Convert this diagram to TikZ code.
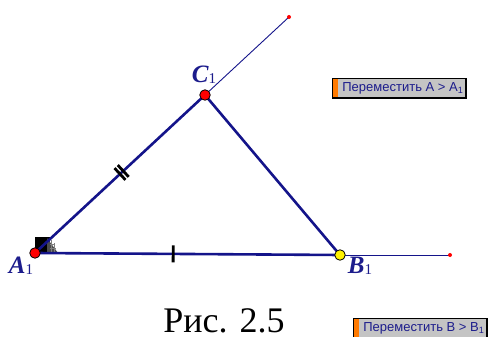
\documentclass[tikz,border=0pt]{standalone}
\usepackage{fontspec}
\setmainfont{Liberation Serif}
\newfontfamily\btnfont{Liberation Sans}
\usetikzlibrary{positioning}
\definecolor{side}{HTML}{14148A}
\definecolor{lbl}{HTML}{1C1C8C}
\definecolor{btngray}{HTML}{C4C4C4}
\definecolor{btnorange}{HTML}{FF7A00}
\newcommand{\vtx}[1]{{\bfseries\itshape #1}{\fontsize{15}{15}\selectfont\raisebox{-1pt}{1}}}

\begin{document}
\begin{tikzpicture}[x=1pt, y=-1pt,
      seg/.style={draw=side, line width=2.6pt, line join=round},
      ray/.style={draw=side, line width=0.9pt},
      pt/.style={circle, draw=black, line width=0.8pt, inner sep=0pt, minimum size=10.5pt},
      tip/.style={circle, fill=red, inner sep=0pt, minimum size=4pt},
      tick/.style={fill=black, inner sep=0pt, minimum width=2.8pt, minimum height=17pt},
      lab/.style={text=lbl, font=\fontsize{25}{25}\selectfont, inner sep=0pt},
      btn/.style={draw=black, fill=btngray, line width=0.8pt, inner xsep=2pt, minimum height=19pt, anchor=west, text=lbl, font=\btnfont\fontsize{13}{13}\selectfont}]
    \useasboundingbox (0,0) rectangle (491,337);
    \coordinate (A) at (35,253);
    \coordinate (B) at (340,255);
    \coordinate (C) at (205,95);
    \coordinate (Cend) at (289,17);
    \coordinate (Bend) at (450,255);
    \fill[black] (A) rectangle (50,237);
    \fill[black!70] (47,253) -- (47,238) -- (58,253) -- cycle;
    \draw[gray, line width=0.4pt] (50,244) -- (54,244) (50,248) -- (56,248) (51,240) -- (51,253) (54,243) -- (54,253);
    \draw[ray] (C) -- (Cend);  \draw[ray] (B) -- (Bend);
    \draw[seg] (A) -- (B) -- (C) -- cycle;
    \path (A) -- (B) node[tick, sloped, pos=.453] (t1) {};
    \path (A) -- (C) node[tick, sloped, pos=.500, minimum height=16pt] (t2) {} node[tick, sloped, pos=.519, minimum height=16pt] (t3) {};
    \node[pt, fill=red] (pa) at (A) {};
    \node[pt, fill=yellow] (pb) at (B) {};
    \node[pt, fill=red] (pc) at (C) {};
    \node[tip] (ec) at (Cend) {};
    \node[tip] (eb) at (Bend) {};
    \node[lab] (la) at (21,266) {\vtx{A}};
    \node[lab] (lb) at (360,266) {\vtx{B}};
    \node[lab] (lc) at (204,75) {\vtx{C}};
    \node[font=\fontsize{36}{36}\selectfont, anchor=base, inner sep=0pt] (cap) at (224,332) {Рис. 2.5};
    \node[btn] (mva) at (332,88) {\hspace*{8pt}Переместить A > A\textsubscript{1}};
    \fill[btnorange] ([xshift=1pt, yshift=-1pt]mva.north west) rectangle ([xshift=6pt, yshift=1pt]mva.south west);
    \draw[line width=2pt] (mva.north east) -- (mva.south east) -- (mva.south west);
    \node[btn] (mvb) at (353,328) {\hspace*{8pt}Переместить B > B\textsubscript{1}};
    \fill[btnorange] ([xshift=1pt, yshift=-1pt]mvb.north west) rectangle ([xshift=6pt, yshift=1pt]mvb.south west);
    \draw[line width=2pt] (mvb.north east) -- (mvb.south east) -- (mvb.south west);
  \end{tikzpicture}
\end{document}
